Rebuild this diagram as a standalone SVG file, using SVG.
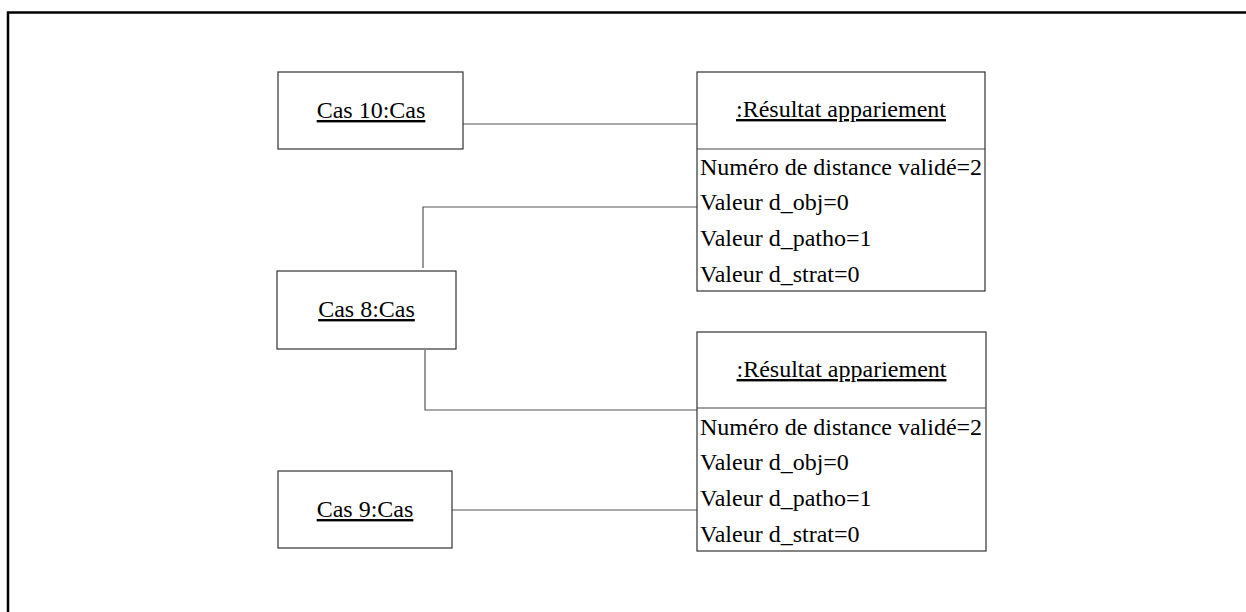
<svg xmlns="http://www.w3.org/2000/svg" width="1246" height="612" viewBox="0 0 1246 612">
  <style>
    .frame { fill: none; stroke: #000; stroke-width: 2.5; }
    .box { fill: #fff; stroke: #333; stroke-width: 1.2; }
    .sep { stroke: #444; stroke-width: 1.2; }
    .link { fill: none; stroke: #555; stroke-width: 1.2; }
    text { font-family: "Liberation Serif", "Times New Roman", serif; font-size: 24px; fill: #000; }
    .name { text-anchor: middle; text-decoration: underline; }
  </style>
  <rect width="1246" height="612" fill="#fff"/>
  <!-- diagram frame (runs off the right and bottom edges) -->
  <rect class="frame" x="8" y="12.5" width="1260" height="640"/>

  <!-- links between objects -->
  <g id="connectors">
    <polyline class="link" points="463,124 697,124"/>
    <polyline class="link" points="423,268 423,207 697,207"/>
    <polyline class="link" points="425,350 425,410 697,410"/>
    <polyline class="link" points="452,510 697,510"/>
  </g>

  <g id="cas10">
    <rect class="box" x="278" y="72" width="185" height="77"/>
    <text class="name" x="371" y="118">Cas 10:Cas</text>
  </g>

  <g id="cas8">
    <rect class="box" x="277" y="271" width="179" height="78"/>
    <text class="name" x="366.5" y="317">Cas 8:Cas</text>
  </g>

  <g id="cas9">
    <rect class="box" x="278" y="471" width="174" height="77"/>
    <text class="name" x="365" y="517">Cas 9:Cas</text>
  </g>

  <g id="resultat1">
    <rect class="box" x="697" y="72" width="288" height="219"/>
    <line class="sep" x1="697" y1="149" x2="985" y2="149"/>
    <text class="name" x="841" y="117">:Résultat appariement</text>
    <text x="700" y="175">Numéro de distance validé=2</text>
    <text x="700" y="210">Valeur d_obj=0</text>
    <text x="700" y="246">Valeur d_patho=1</text>
    <text x="700" y="282">Valeur d_strat=0</text>
  </g>

  <g id="resultat2">
    <rect class="box" x="697" y="332" width="289" height="219"/>
    <line class="sep" x1="697" y1="408" x2="986" y2="408"/>
    <text class="name" x="841.5" y="377">:Résultat appariement</text>
    <text x="700" y="435">Numéro de distance validé=2</text>
    <text x="700" y="470">Valeur d_obj=0</text>
    <text x="700" y="506">Valeur d_patho=1</text>
    <text x="700" y="542">Valeur d_strat=0</text>
  </g>
</svg>
